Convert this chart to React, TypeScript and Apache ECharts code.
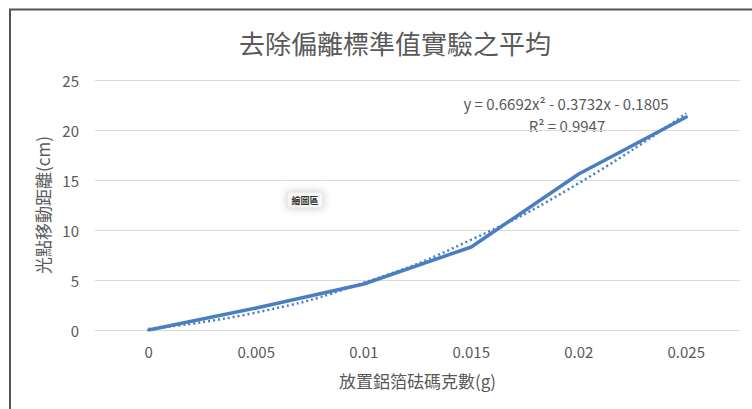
import React, { useEffect, useRef } from "react";
import * as echarts from "echarts";

const categories = ["0", "0.005", "0.01", "0.015", "0.02", "0.025"];
const averageValues = [0, 2.2, 4.6, 8.3, 15.6, 21.3];
const trendValues = [0.12, 1.75, 4.72, 9.03, 14.68, 21.67];
const yTicks = { min: 0, max: 25, interval: 5 };
const titleText = "去除偏離標準值實驗之平均";
const yName = "光點移動距離(cm)";
const xName = "放置鋁箔砝碼克數(g)";
const equationText = "y = 0.6692x² - 0.3732x - 0.1805";
const r2Text = "R² = 0.9947";
const tipText = "繪圖區";

const FONT = "'Noto Sans CJK TC', 'Noto Sans', sans-serif";
const GRAY = "#595959";
const BLUE = "#4a7ec3";

export default function App() {
  const ref = useRef<HTMLDivElement>(null);
  useEffect(() => {
    if (!ref.current) return;
    const chart = echarts.init(ref.current, undefined, { renderer: "svg" });
    chart.setOption({
      animation: false,
      backgroundColor: "#ffffff",
      textStyle: { fontFamily: FONT },
      title: {
        text: titleText,
        left: 390,
        top: 24,
        textAlign: "center",
        textStyle: { fontFamily: FONT, fontSize: 26, fontWeight: "normal", color: GRAY },
      },
      grid: { left: 95, right: 12, top: 80, bottom: 79 },
      xAxis: {
        type: "category",
        data: categories,
        boundaryGap: true,
        name: xName,
        nameLocation: "middle",
        nameGap: 42,
        nameTextStyle: { fontFamily: FONT, fontSize: 17, color: GRAY },
        axisLine: { show: true, lineStyle: { color: "#d9d9d9", width: 1 } },
        axisTick: { show: false },
        axisLabel: { color: GRAY, fontSize: 15, margin: 14, fontFamily: FONT },
      },
      yAxis: {
        type: "value",
        min: yTicks.min,
        max: yTicks.max,
        interval: yTicks.interval,
        name: yName,
        nameLocation: "middle",
        nameGap: 42,
        nameRotate: 90,
        nameTextStyle: { fontFamily: FONT, fontSize: 17, color: GRAY },
        axisLine: { show: false },
        axisTick: { show: false },
        axisLabel: { color: GRAY, fontSize: 15, margin: 16, fontFamily: FONT },
        splitLine: { lineStyle: { color: "#d9d9d9", width: 1 } },
      },
      series: [
        {
          type: "line",
          data: trendValues,
          smooth: true,
          symbol: "none",
          lineStyle: { color: BLUE, width: 2.5, type: [2, 3] },
          z: 2,
        },
        {
          type: "line",
          data: averageValues,
          symbol: "none",
          lineStyle: { color: BLUE, width: 3.5, cap: "round", join: "round" },
          z: 3,
        },
      ],
      graphic: [
        { type: "line", shape: { x1: 10, y1: 9, x2: 10, y2: 409 }, style: { stroke: "#555555", lineWidth: 2 } },
        { type: "line", shape: { x1: 9, y1: 9.5, x2: 752, y2: 9.5 }, style: { stroke: "#555555", lineWidth: 2 } },
        {
          type: "text",
          x: 566,
          y: 103,
          style: { text: equationText, fontFamily: FONT, fontSize: 15, fill: GRAY, textAlign: "center", textVerticalAlign: "middle" },
        },
        {
          type: "text",
          x: 567,
          y: 125,
          style: { text: r2Text, fontFamily: FONT, fontSize: 15, fill: GRAY, textAlign: "center", textVerticalAlign: "middle" },
        },
        {
          type: "rect",
          shape: { x: 287, y: 192, width: 36, height: 16, r: 2 },
          style: { fill: "#f7f7f7", stroke: "#dddddd", lineWidth: 1, shadowBlur: 8, shadowColor: "rgba(0,0,0,0.2)" },
          z: 10,
        },
        {
          type: "text",
          x: 305,
          y: 200,
          style: { text: tipText, fontFamily: FONT, fontSize: 9, fontWeight: "bold", fill: "#333333", textAlign: "center", textVerticalAlign: "middle" },
          z: 11,
        },
      ],
    });
    return () => chart.dispose();
  }, []);
  return <div ref={ref} style={{ width: 752, height: 409, position: "absolute", left: 0, top: 0 }} />;
}
